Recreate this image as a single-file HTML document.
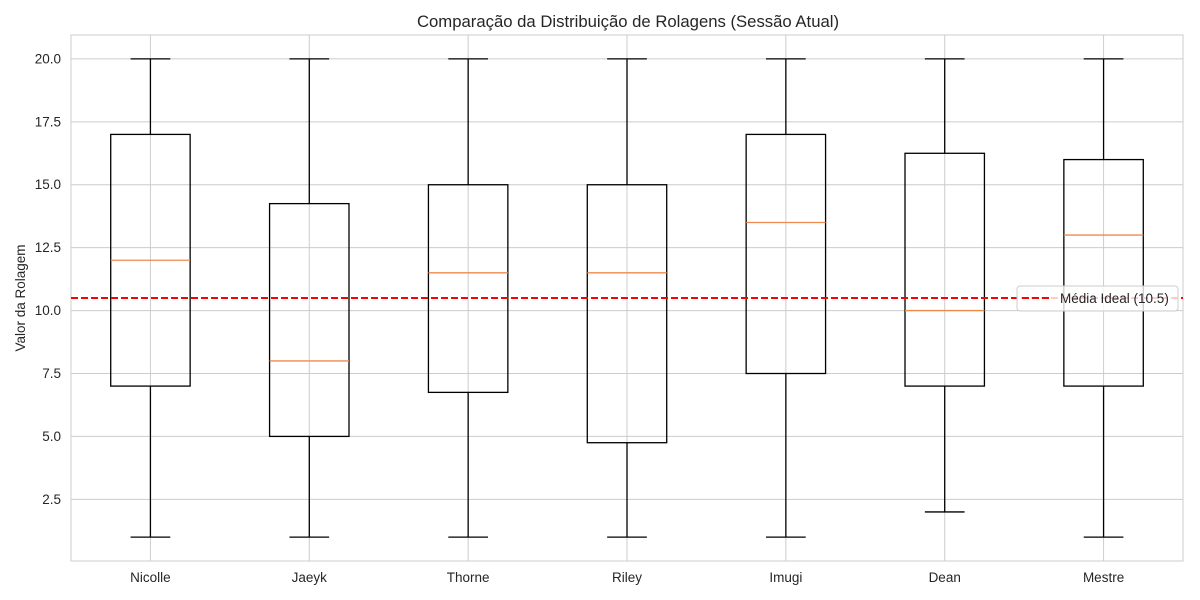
<!DOCTYPE html>
<html><head><meta charset="utf-8">
<style>
html,body{margin:0;padding:0;background:#fff;}
svg{display:block;font-family:"Liberation Sans","DejaVu Sans",sans-serif;}
</style></head>
<body>
<svg id="chart" width="1200" height="600" viewBox="0 0 1200 600"></svg>
<script>
const categories = ["Nicolle","Jaeyk","Thorne","Riley","Imugi","Dean","Mestre"];
const whiskerLow = [1, 1, 1, 1, 1, 2, 1];
const q1Values = [7, 5, 6.75, 4.75, 7.5, 7, 7];
const medianValues = [12, 8, 11.5, 11.5, 13.5, 10, 13];
const q3Values = [17, 14.25, 15, 15, 17, 16.25, 16];
const whiskerHigh = [20, 20, 20, 20, 20, 20, 20];
const yTicks = [2.5, 5.0, 7.5, 10.0, 12.5, 15.0, 17.5, 20.0];
const idealMean = 10.5;

const svg = document.getElementById('chart');
const NS = "http://www.w3.org/2000/svg";
const L = 71, R = 1183, T = 35, B = 561;
const yMin = 0.05, yMax = 20.95;
function xc(i){ return L + (i + 0.5) * (R - L) / 7; }
function ys(v){ return B - (v - yMin) / (yMax - yMin) * (B - T); }
const unit = (R - L) / 7;
function mk(tag, attrs, parent){
  const e = document.createElementNS(NS, tag);
  for (const k in attrs) e.setAttribute(k, attrs[k]);
  (parent || svg).appendChild(e);
  return e;
}
mk('rect',{x:L,y:T,width:R-L,height:B-T,fill:'#fff'});
const grid = mk('g',{});


yTicks.forEach(v=>{
  mk('line',{x1:L,x2:R,y1:ys(v),y2:ys(v),stroke:'#cccccc','stroke-width':1},grid);
});
categories.forEach((c,i)=>{
  mk('line',{x1:xc(i),x2:xc(i),y1:T,y2:B,stroke:'#cccccc','stroke-width':1},grid);
});
const sp = mk('rect',{x:L,y:T,width:R-L,height:B-T,fill:'none',stroke:'#cccccc','stroke-width':1});


yTicks.forEach(v=>{
  const t = mk('text',{x:L-10,y:ys(v)+4.5,'text-anchor':'end','font-size':13.5,fill:'#262626'});
  t.textContent = v.toFixed(1);
  
  
});
categories.forEach((c,i)=>{
  const t = mk('text',{x:xc(i),y:582,'text-anchor':'middle','font-size':13.5,fill:'#262626'});
  t.textContent = c;
  
  
});
categories.forEach((c,i)=>{
  const g = mk('g',{});
  
  
  const x = xc(i), hw = unit*0.25, cw = unit*0.125;
  mk('line',{x1:x,x2:x,y1:ys(q1Values[i]),y2:ys(whiskerLow[i]),stroke:'#000','stroke-width':1.3},g);
  mk('line',{x1:x,x2:x,y1:ys(q3Values[i]),y2:ys(whiskerHigh[i]),stroke:'#000','stroke-width':1.3},g);
  mk('line',{x1:x-cw,x2:x+cw,y1:ys(whiskerLow[i]),y2:ys(whiskerLow[i]),stroke:'#000','stroke-width':1.3},g);
  mk('line',{x1:x-cw,x2:x+cw,y1:ys(whiskerHigh[i]),y2:ys(whiskerHigh[i]),stroke:'#000','stroke-width':1.3},g);
  mk('rect',{x:x-hw,y:ys(q3Values[i]),width:2*hw,height:ys(q1Values[i])-ys(q3Values[i]),fill:'none',stroke:'#000','stroke-width':1.3},g);
  mk('line',{x1:x-hw,x2:x+hw,y1:ys(medianValues[i]),y2:ys(medianValues[i]),stroke:'#ee8a4f','stroke-width':1.3},g);
});
const ml = mk('line',{x1:L,x2:R,y1:ys(idealMean),y2:ys(idealMean),stroke:'#ff0000','stroke-width':2,'stroke-dasharray':'7,3'});


const lg = mk('g',{});


mk('rect',{x:1017,y:286,width:161,height:25,rx:3,fill:'#fff','fill-opacity':0.8,stroke:'#cccccc','stroke-width':1},lg);
mk('line',{x1:1022,x2:1050,y1:298,y2:298,stroke:'#ff0000','stroke-width':2,'stroke-dasharray':'7,3'},lg);
const lt = mk('text',{x:1060,y:303,'font-size':13.5,fill:'#262626'},lg);
lt.textContent = 'Média Ideal (10.5)';
const tt = mk('text',{x:628,y:27,'text-anchor':'middle','font-size':16.7,fill:'#262626'});
tt.textContent = 'Comparação da Distribuição de Rolagens (Sessão Atual)';


const yt = mk('text',{x:0,y:0,'text-anchor':'middle','font-size':13.5,fill:'#262626',transform:'translate(25,298) rotate(-90)'});
yt.textContent = 'Valor da Rolagem';


</script>
</body></html>
